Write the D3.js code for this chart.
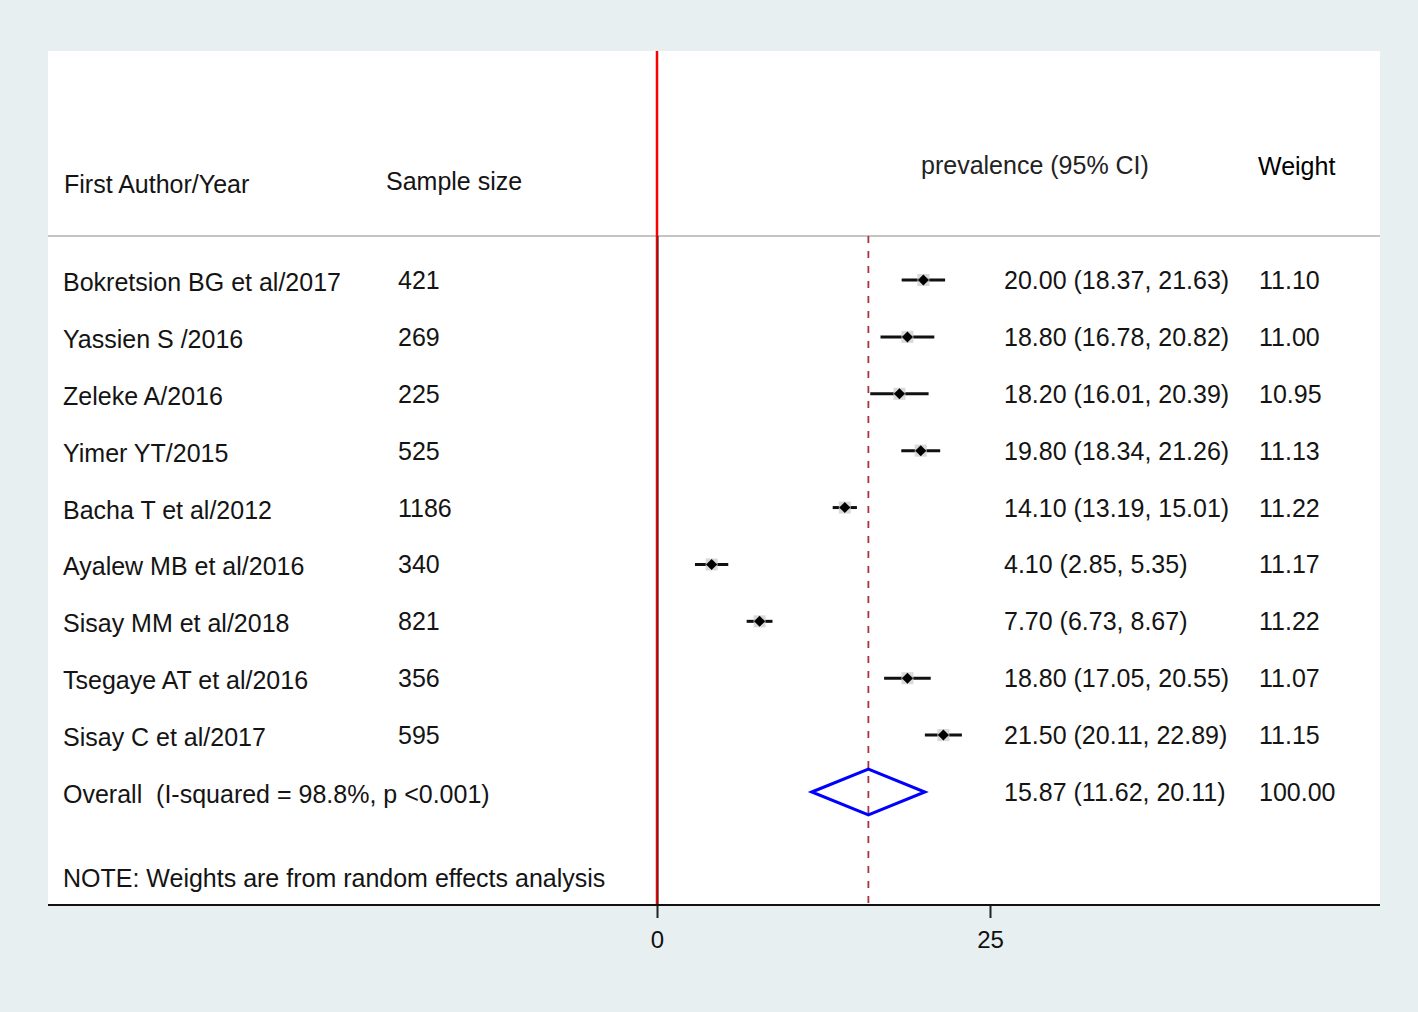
<!DOCTYPE html>
<html><head><meta charset="utf-8">
<script src="https://cdn.jsdelivr.net/npm/d3@7"></script>
<style>
html,body{margin:0;padding:0;background:#e8eff1;}
svg{display:block;font-family:"Liberation Sans",Arial,sans-serif;}
text{white-space:pre;}
</style></head>
<body>
<svg id="chart" width="1418" height="1012"></svg>
<script>
const authors = ["Bokretsion BG et al/2017","Yassien S /2016","Zeleke A/2016","Yimer YT/2015","Bacha T et al/2012","Ayalew MB et al/2016","Sisay MM et al/2018","Tsegaye AT et al/2016","Sisay C et al/2017"];
const sampleSizes = ["421","269","225","525","1186","340","821","356","595"];
const estimates = [20.00,18.80,18.20,19.80,14.10,4.10,7.70,18.80,21.50];
const lower = [18.37,16.78,16.01,18.34,13.19,2.85,6.73,17.05,20.11];
const upper = [21.63,20.82,20.39,21.26,15.01,5.35,8.67,20.55,22.89];
const weights = ["11.10","11.00","10.95","11.13","11.22","11.17","11.22","11.07","11.15"];
const overall = {label:"Overall  (I-squared = 98.8%, p <0.001)", est:15.87, lo:11.62, hi:20.11, weight:"100.00"};
const tickValues = [0,25];
const headers = {author:"First Author/Year", sample:"Sample size", ci:"prevalence (95% CI)", weight:"Weight"};
const note = "NOTE: Weights are from random effects analysis";

const svg = d3.select("#chart");
const W = 1418, H = 1012;
const panel = {x0:48, x1:1380, y0:51, y1:905};
const sepY = 236;

svg.append("rect").attr("x",0).attr("y",0).attr("width",W).attr("height",H).attr("fill","#e8eff1");
svg.append("rect").attr("x",panel.x0).attr("y",panel.y0).attr("width",panel.x1-panel.x0).attr("height",panel.y1-panel.y0).attr("fill","#ffffff");

const x = d3.scaleLinear().domain([0,25]).range([657,990]);
const rowKeys = d3.range(authors.length+1);
const y = d3.scalePoint().domain(rowKeys).range([280,792]);

const fs = 25;
const txt = (sel) => sel.attr("font-size",fs).attr("fill","#141414").attr("dominant-baseline","central");

svg.append("line").attr("x1",panel.x0).attr("x2",panel.x1).attr("y1",sepY).attr("y2",sepY)
  .attr("stroke","#c4c4c4").attr("stroke-width",2);

txt(svg.append("text").attr("x",64).attr("y",184).text(headers.author));
txt(svg.append("text").attr("x",386).attr("y",181).text(headers.sample));
txt(svg.append("text").attr("x",921).attr("y",165).text(headers.ci)).attr("fill","#222");
txt(svg.append("text").attr("x",1258).attr("y",166).text(headers.weight)).attr("fill","#000");

svg.append("line").attr("x1",x(0)).attr("x2",x(0)).attr("y1",panel.y0).attr("y2",panel.y1)
  .attr("stroke","#ff0000").attr("stroke-width",2.5);
svg.append("line").attr("x1",x(0)+1).attr("x2",x(0)+1).attr("y1",sepY).attr("y2",panel.y1)
  .attr("stroke","#222").attr("stroke-width",1);

svg.append("line").attr("x1",x(overall.est)).attr("x2",x(overall.est)).attr("y1",sepY).attr("y2",panel.y1)
  .attr("stroke","#a8323e").attr("stroke-width",1.8).attr("stroke-dasharray","7,8");

const rows = svg.selectAll("g.row").data(authors.map((a,i)=>({a,i}))).enter().append("g").attr("class","row");
rows.each(function(d){
  const g = d3.select(this), i = d.i, yy = y(i);
  txt(g.append("text").attr("x",63).attr("y",yy+2).text(authors[i]));
  txt(g.append("text").attr("x",398).attr("y",yy).text(sampleSizes[i]));
  txt(g.append("text").attr("x",1004).attr("y",yy).text(estimates[i].toFixed(2)+" ("+lower[i].toFixed(2)+", "+upper[i].toFixed(2)+")"));
  txt(g.append("text").attr("x",1259).attr("y",yy).text(weights[i]));
  g.append("line").attr("x1",x(lower[i])).attr("x2",x(upper[i])).attr("y1",yy).attr("y2",yy)
    .attr("stroke","#111").attr("stroke-width",3);
  const bs = 12;
  g.append("rect").attr("x",x(estimates[i])-bs/2).attr("y",yy-bs/2).attr("width",bs).attr("height",bs)
    .attr("fill","#d0d0d0").attr("opacity",0.8);
  const ds = 5.5;
  g.append("path").attr("d",`M${x(estimates[i])-ds},${yy}L${x(estimates[i])},${yy-ds}L${x(estimates[i])+ds},${yy}L${x(estimates[i])},${yy+ds}Z`)
    .attr("fill","#000");
});

const yo = y(authors.length);
txt(svg.append("text").attr("x",63).attr("y",yo+2).text(overall.label));
txt(svg.append("text").attr("x",1004).attr("y",yo).text(overall.est.toFixed(2)+" ("+overall.lo.toFixed(2)+", "+overall.hi.toFixed(2)+")"));
txt(svg.append("text").attr("x",1259).attr("y",yo).text(overall.weight));
const dh = 23;
svg.append("path").attr("d",`M${x(overall.lo)},${yo}L${x(overall.est)},${yo-dh}L${x(overall.hi)},${yo}L${x(overall.est)},${yo+dh}Z`)
  .attr("fill","none").attr("stroke","#0000ff").attr("stroke-width",3);

txt(svg.append("text").attr("x",63).attr("y",878).text(note));

const axis = d3.axisBottom(x).tickValues(tickValues).tickSize(13).tickPadding(13).tickFormat(d3.format("d"));
const ag = svg.append("g").attr("transform",`translate(0,${panel.y1})`).call(axis);
ag.select(".domain").remove();
ag.selectAll(".tick line").attr("stroke","#222").attr("stroke-width",2);
ag.selectAll(".tick text").attr("font-size",24).attr("fill","#111").attr("font-family","Liberation Sans, Arial, sans-serif");
svg.append("line").attr("x1",panel.x0).attr("x2",panel.x1).attr("y1",panel.y1).attr("y2",panel.y1)
  .attr("stroke","#111").attr("stroke-width",2);
</script>
</body></html>
